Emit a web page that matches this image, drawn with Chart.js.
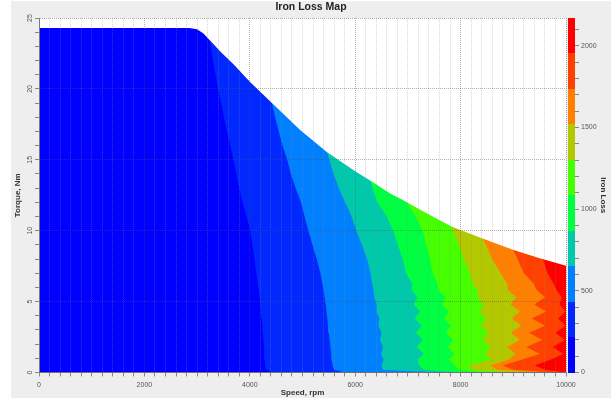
<!DOCTYPE html>
<html>
<head>
<meta charset="utf-8">
<title>Iron Loss Map</title>
<script src="https://cdn.jsdelivr.net/npm/chart.js@4.4.1/dist/chart.umd.min.js"></script>
<style>
  html, body { margin: 0; padding: 0; background: #ffffff; }
  #panel { position: absolute; left: 11px; top: 1px; width: 600px; height: 397px; background: #eeeeee; }
  canvas { display: block; }
</style>
</head>
<body>
<div id="panel"><canvas id="lossMap" width="600" height="397"></canvas></div>
<script>
const torqueSteps = [0, 0.2, 0.5, 0.9, 1.3, 1.8, 2.3, 2.8, 3.3, 3.8, 4.3, 4.8, 5.3, 5.8, 6.3, 7, 8, 9, 10, 11, 12, 13, 14, 15, 16, 17, 18, 19, 20, 21, 22, 23, 24.5];

// speed (rpm) where each iron loss level starts, per torque row
const lossEdge1 = [4450, 4310, 4295, 4285, 4280, 4270, 4260, 4250, 4240, 4230, 4215, 4200, 4185, 4170, 4150, 4125, 4090, 4050, 4010, 3940, 3860, 3800, 3745, 3690, 3630, 3570, 3510, 3455, 3400, 3350, 3300, 3260, 3200];
const lossEdge2 = [5800, 5600, 5570, 5555, 5545, 5530, 5515, 5500, 5485, 5470, 5455, 5440, 5420, 5400, 5375, 5340, 5270, 5190, 5110, 5040, 4970, 4870, 4780, 4710, 4620, 4550, 4480, 4420];
const lossEdge3 = [7600, 6520, 6500, 6540, 6490, 6530, 6470, 6500, 6440, 6460, 6400, 6410, 6360, 6350, 6320, 6290, 6225, 6130, 6020, 5930, 5810, 5690, 5590, 5510, 5430];
const lossEdge4 = [8000, 7300, 7220, 7180, 7300, 7170, 7280, 7150, 7260, 7130, 7230, 7110, 7180, 7070, 7080, 6960, 6900, 6810, 6720, 6600, 6420, 6330, 6250];
const lossEdge5 = [8400, 7950, 7900, 7780, 7880, 7760, 7850, 7720, 7820, 7690, 7780, 7650, 7720, 7580, 7560, 7470, 7420, 7350, 7280, 7150, 6980];
const lossEdge6 = [8900, 8250, 8150, 8580, 8460, 8560, 8430, 8520, 8400, 8480, 8370, 8440, 8320, 8330, 8220, 8180, 8060, 7970, 7860, 7760];
const lossEdge7 = [9500, 8700, 8560, 8900, 9050, 8880, 9120, 8960, 9150, 8980, 9120, 8950, 9060, 8900, 8880, 8760, 8600, 8480, 8350];
const lossEdge8 = [9800, 9000, 8800, 9150, 9500, 9250, 9550, 9300, 9600, 9350, 9620, 9400, 9600, 9450, 9380, 9200, 9080, 8950];
const lossEdge9 = [10000, 9600, 9400, 9700, 9950, 9750, 9980, 9800, 9990, 9850, 9990, 9880, 9920, 9820, 9760, 9650, 9560];

// max torque curve
const envelopeSpeed = [0, 2850, 3000, 3120, 3250, 3450, 3700, 4000, 4450, 4955, 5460, 6000, 6320, 6664, 6886, 7250, 7836, 8405, 9006, 9500, 10000];
const envelopeTorque = [24.3, 24.3, 24.2, 23.9, 23.4, 22.6, 21.7, 20.5, 18.9, 17.1, 15.55, 14.2, 13.45, 12.63, 12.2, 11.45, 10.28, 9.46, 8.64, 8.05, 7.53];

// colour bar levels
const lossLevels = [0, 217, 434, 651, 868, 1085, 1302, 1519, 1736, 1953, 2170];
const levelColors = ['#0000ff', '#0028ff', '#0080ff', '#00c8aa', '#00ff40', '#46ff00', '#b4c800', '#ff8000', '#ff4000', '#ff0000'];

const SPEED_MAX = 10000;
const TORQUE_MAX = 25;

const lossEdges = [null, lossEdge1, lossEdge2, lossEdge3, lossEdge4, lossEdge5, lossEdge6, lossEdge7, lossEdge8, lossEdge9];

// everything right of an edge gets that level, higher levels painted on top
function regionPoints(edge) {
  if (!edge) {
    return [{x: 0, y: 0}, {x: 0, y: TORQUE_MAX}, {x: SPEED_MAX, y: TORQUE_MAX}, {x: SPEED_MAX, y: 0}];
  }
  const pts = edge.map((s, i) => ({x: s, y: torqueSteps[i]}));
  const last = edge[edge.length - 1];
  pts.push({x: last, y: TORQUE_MAX}, {x: SPEED_MAX, y: TORQUE_MAX}, {x: SPEED_MAX, y: 0});
  return pts;
}

// white area above the torque limit
function limitMask() {
  const pts = envelopeSpeed.map((s, i) => ({x: s, y: envelopeTorque[i]}));
  pts.push({x: SPEED_MAX, y: TORQUE_MAX}, {x: 0, y: TORQUE_MAX});
  return pts;
}

const datasets = levelColors.map((color, k) => ({
  label: lossLevels[k] + '-' + lossLevels[k + 1],
  data: regionPoints(lossEdges[k]),
  backgroundColor: color,
  fill: 'shape',
  order: 20 - k
}));
datasets.push({
  label: 'limit',
  data: limitMask(),
  backgroundColor: '#ffffff',
  fill: 'shape',
  order: 1
});

const MINOR_GRID = 'rgba(140,140,140,0.35)';
const MAJOR_GRID = 'rgba(80,80,80,0.45)';

const plotBackground = {
  id: 'plotBackground',
  beforeDraw(chart) {
    const {ctx, chartArea: a} = chart;
    ctx.save();
    ctx.fillStyle = '#ffffff';
    ctx.fillRect(a.left, a.top, a.right - a.left, a.bottom - a.top);
    ctx.restore();
  }
};

const colorBar = {
  id: 'colorBar',
  afterDraw(chart) {
    const s = chart.scales.yc;
    const ctx = chart.ctx;
    ctx.save();
    for (let k = 0; k < levelColors.length; k++) {
      const y1 = Math.round(s.getPixelForValue(lossLevels[k]));
      const y2 = Math.round(s.getPixelForValue(lossLevels[k + 1]));
      ctx.fillStyle = levelColors[k];
      ctx.fillRect(s.left + 2, y2, 7, y1 - y2);
    }
    ctx.restore();
  }
};

Chart.defaults.font.family = "'Liberation Sans', Arial, sans-serif";

new Chart(document.getElementById('lossMap'), {
  type: 'line',
  data: {datasets: datasets},
  options: {
    responsive: false,
    devicePixelRatio: 1,
    animation: false,
    events: [],
    layout: {padding: 0},
    datasets: {
      line: {borderWidth: 0, pointRadius: 0, pointHoverRadius: 0, tension: 0}
    },
    plugins: {
      legend: {display: false},
      tooltip: {enabled: false},
      title: {
        display: true,
        text: 'Iron Loss Map',
        color: '#222222',
        font: {size: 10.5, weight: 'bold'},
        padding: {top: 0, bottom: 4.4}
      }
    },
    scales: {
      x: {
        type: 'linear',
        min: 0,
        max: SPEED_MAX,
        afterFit: (s) => { s.height = 25.5; },
        ticks: {
          stepSize: 200,
          autoSkip: false,
          maxRotation: 0,
          includeBounds: false,
          padding: 4,
          color: '#555555',
          font: {size: 7},
          callback: (v) => (v % 2000 === 0 ? String(v) : '')
        },
        grid: {
          z: 1,
          tickLength: 4,
          tickColor: '#888888',
          color: (c) => (c.tick && c.tick.value % 2000 === 0 ? MAJOR_GRID : MINOR_GRID)
        },
        border: {z: 1, color: '#7a7a7a', dash: [1, 1]},
        title: {
          display: true,
          text: 'Speed, rpm',
          color: '#333333',
          font: {size: 8, weight: 'bold'},
          padding: {top: 0, bottom: 0}
        }
      },
      y: {
        type: 'linear',
        position: 'left',
        min: 0,
        max: TORQUE_MAX,
        afterFit: (s) => { s.width = 28; },
        ticks: {
          stepSize: 1,
          autoSkip: false,
          minRotation: 90,
          maxRotation: 90,
          crossAlign: 'center',
          includeBounds: false,
          padding: 1,
          color: '#555555',
          font: {size: 7},
          callback: (v) => (v % 5 === 0 ? String(v) : '')
        },
        grid: {
          z: 1,
          tickLength: 4,
          tickColor: '#888888',
          color: (c) => (c.tick && c.tick.value % 5 === 0 ? MAJOR_GRID : 'rgba(0,0,0,0)')
        },
        border: {z: 1, color: '#7a7a7a', dash: [1, 1]},
        title: {
          display: true,
          text: 'Torque, Nm',
          color: '#333333',
          font: {size: 8, weight: 'bold'},
          padding: {top: 2.2, bottom: 0}
        }
      },
      yc: {
        type: 'linear',
        position: 'right',
        min: 0,
        max: lossLevels[lossLevels.length - 1],
        afterFit: (s) => { s.width = 45; },
        ticks: {
          stepSize: 100,
          autoSkip: false,
          includeBounds: false,
          padding: 2,
          color: '#555555',
          font: {size: 7},
          callback: (v) => (v % 500 === 0 ? String(v) : '')
        },
        grid: {
          drawOnChartArea: false,
          tickLength: 13,
          tickColor: '#888888',
          tickBorderDash: [0, 9, 4, 0]
        },
        border: {display: false},
        title: {
          display: true,
          text: 'Iron Loss',
          color: '#333333',
          font: {size: 8, weight: 'bold'},
          padding: {top: 3.2, bottom: 0}
        }
      }
    }
  },
  plugins: [plotBackground, colorBar]
});
</script>
</body>
</html>
